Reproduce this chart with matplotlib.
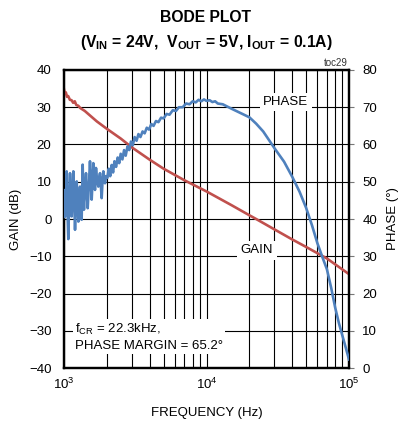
import numpy as np
import matplotlib.pyplot as plt

plt.rcParams['font.family'] = ['Liberation Sans', 'DejaVu Sans']
plt.rcParams['mathtext.fontset'] = 'custom'
plt.rcParams['mathtext.rm'] = 'Liberation Sans'
plt.rcParams['mathtext.it'] = 'Liberation Sans'
plt.rcParams['mathtext.bf'] = 'Liberation Sans:bold'

# gain curve (left axis, dB)
gain_f = [1000, 1015, 1030, 1050, 1070, 1100, 1130, 1160, 1190, 1220, 1260, 1300,
          1400, 1500, 1700, 2000, 2500, 3000, 4000, 5000, 7000, 10000, 15000,
          20000, 22300, 30000, 40000, 50000, 70000, 100000]
gain_db = [34.8, 33.6, 34.0, 32.8, 33.0, 32.0, 31.9, 31.2, 31.6, 30.6, 30.4, 29.8,
           29.0, 28.0, 26.2, 24.2, 21.6, 19.2, 15.9, 13.5, 10.4, 7.4, 3.7,
           1.0, 0.0, -2.8, -5.5, -7.5, -10.6, -14.8]

# phase curve (right axis, degrees)
phase_f = [1000, 1008, 1016, 1030, 1044, 1058, 1072, 1087, 1102, 1117, 1132, 1147,
           1163, 1179, 1195, 1211, 1228, 1245, 1261, 1278, 1295, 1312, 1330, 1352,
           1366, 1381, 1405, 1427, 1446, 1466, 1494, 1522, 1543, 1564, 1585, 1606,
           1628, 1650, 1677, 1710, 1741, 1765, 1789, 1814, 1838, 1863, 1888, 1914,
           1940, 1975, 2013, 2060, 2110, 2160, 2210, 2260, 2320, 2380, 2440, 2500,
           2570, 2640, 2710, 2790, 2870, 2950, 3040, 3130, 3230, 3330, 3440, 3560,
           3680, 3810, 3950, 4100, 4250, 4420, 4600, 4800, 5000, 5250, 5500, 5800,
           6100, 6400, 6800, 7200, 7600, 8000, 8400, 8800, 9200, 9600, 10000, 10500,
           11000, 11500, 12000, 13000, 15000, 17000, 20000, 22300, 25000, 30000,
           35000, 40000, 45000, 50000, 55000, 60000, 65000, 70000, 75000, 80000,
           85000, 90000, 95000, 100000]
phase_deg = [44.0, 40.5, 47.8, 41.0, 52.8, 42.0, 34.6, 45.0, 52.3, 44.0, 40.7, 47.0,
             52.8, 45.0, 37.1, 44.0, 50.1, 44.0, 39.3, 45.0, 48.7, 44.0, 39.8, 54.6,
             47.0, 42.5, 48.0, 52.3, 47.0, 42.9, 49.0, 55.5, 50.0, 45.2, 50.0, 55.0,
             51.0, 47.8, 53.7, 50.0, 48.7, 51.0, 52.3, 49.0, 45.6, 50.0, 52.8, 51.0,
             49.6, 51.5, 51.0, 53.5, 51.5, 54.5, 52.5, 55.5, 54.0, 56.5, 55.0, 57.5,
             56.0, 58.5, 57.0, 59.5, 58.5, 60.8, 59.8, 62.0, 61.0, 62.8, 62.0, 63.5,
             63.0, 64.5, 64.0, 65.5, 65.0, 66.3, 66.0, 67.2, 67.0, 68.2, 68.0, 69.2,
             69.0, 70.0, 70.0, 71.0, 70.8, 71.6, 71.3, 72.0, 71.6, 72.1, 71.7, 71.9,
             71.4, 71.6, 71.0, 70.8, 69.6, 68.6, 67.3, 65.6, 63.5, 59.0,
             55.4, 51.3, 47.3, 43.0, 38.3, 33.5, 29.8, 26.5, 21.5, 16.2,
             12.0, 8.6, 5.4, 2.3]

xtick_vals = [1e3, 1e4, 1e5]
xtick_labels = [r'$\mathregular{10^3}$', r'$\mathregular{10^4}$', r'$\mathregular{10^5}$']

fig = plt.figure(figsize=(4.04, 4.23), dpi=100)
ax = fig.add_axes([64/404, 1-368/423, 285/404, 298/423])
ax2 = ax.twinx()

ax.set_xscale('log')
ax.set_xlim(1e3, 1e5)
ax.set_ylim(-40, 40)
ax2.set_ylim(0, 80)

ax.set_yticks(range(-40, 41, 10))
ax2.set_yticks(range(0, 81, 10))
ax.set_xticks(xtick_vals)
ax.set_xticklabels(xtick_labels)
ax.set_xticks([m*10**d for d in (3, 4) for m in range(2, 10)], minor=True)
ax.tick_params(axis='x', which='minor', length=0)
ax.tick_params(axis='x', which='major', length=0, pad=6, labelsize=9.5)
ax.tick_params(axis='y', length=0, pad=9, labelsize=9.5)
ax2.tick_params(axis='y', length=3.5, width=0.8, color='#777777', pad=6, labelsize=9.5)

ax.grid(True, which='both', axis='x', color='black', lw=0.8)
ax.grid(True, which='major', axis='y', color='black', lw=0.8)
ax.set_axisbelow(True)

for a in (ax, ax2):
    for s in a.spines.values():
        s.set_linewidth(1.6)
        s.set_color('black')

ax.plot(gain_f, gain_db, color='#C0504D', lw=1.9, zorder=3)
ax2.plot(phase_f, phase_deg, color='#4F81BD', lw=1.9, zorder=3)

ax.set_ylabel('GAIN (dB)', fontsize=9.5, labelpad=5)
ax2.set_ylabel('PHASE (°)', fontsize=9.5, labelpad=7)
ax.set_xlabel('FREQUENCY (Hz)', fontsize=9.5, labelpad=11)

box = dict(facecolor='white', edgecolor='none', pad=2.5)
ax.text(3.6e4, 31.4, 'PHASE', fontsize=9.5, ha='center', va='center', bbox=box, zorder=4)
ax.text(2.26e4, -8.4, 'GAIN', fontsize=9.5, ha='center', va='center', bbox=box, zorder=4)
ax.text(1.2e3, -31.6, 'f$_{\\mathregular{CR}}$ = 22.3kHz,\nPHASE MARGIN = 65.2°',
        fontsize=9.5, ha='left', va='center', linespacing=1.3,
        bbox=dict(facecolor='white', edgecolor='none', pad=1.5), zorder=4)
ax.text(0.995, 1.008, 'toc29', transform=ax.transAxes, fontsize=7,
        ha='right', va='bottom', color='#333333')

fig.text(206/404, 1-17/423, 'BODE PLOT', fontsize=11.3, fontweight='bold',
         ha='center', va='center')
fig.text(206/404, 1-43/423,
         '(V$_{\\mathbf{IN}}$ = 24V,  V$_{\\mathbf{OUT}}$ = 5V, I$_{\\mathbf{OUT}}$ = 0.1A)',
         fontsize=11.3, fontweight='bold', ha='center', va='center')

fig.savefig('out.png', dpi=100)
